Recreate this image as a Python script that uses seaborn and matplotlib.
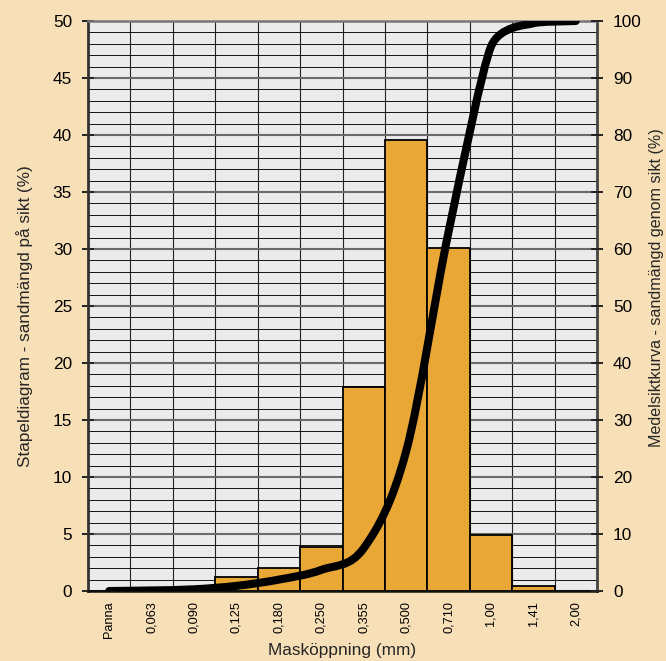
import matplotlib
matplotlib.use("Agg")
import matplotlib.pyplot as plt
from matplotlib.path import Path
from matplotlib.patches import PathPatch
from matplotlib.ticker import MultipleLocator, FixedLocator
import numpy as np
import seaborn as sns

categories = ["Panna", "0,063", "0,090", "0,125", "0,180", "0,250",
              "0,355", "0,500", "0,710", "1,00", "1,41", "2,00"]
bar_values = [0, 0, 0, 1.2, 2.0, 3.9, 17.9, 39.6, 30.1, 4.9, 0.4, 0]
curve_values = [0, 0.1, 0.3, 0.9, 2.0, 3.7, 7.5, 24.5, 63, 95.5, 99.6, 100]

left_label = "Stapeldiagram - sandmängd på sikt (%)"
right_label = "Medelsiktkurva - sandmängd genom sikt (%)"
x_label = "Masköppning (mm)"

sns.set_style("white")
plt.rcParams["font.family"] = ["Liberation Sans", "DejaVu Sans"]

BG = "#F7DFB7"
PLOT_BG = "#EBEBEB"
BAR = "#E9A735"

fig = plt.figure(figsize=(6.66, 6.61), dpi=100, facecolor=BG)
ax = fig.add_axes([88/666, 1-591/661, (597-88)/666, (591-21)/661])
ax.set_facecolor(PLOT_BG)

sns.barplot(x=categories, y=bar_values, order=categories, color=BAR,
            saturation=1, width=1.0, edgecolor="black", linewidth=1.3,
            ax=ax, zorder=2)

n = len(categories)
ax.set_xlim(-0.5, n - 0.5)
ax.set_ylim(0, 50)
ax.set_axisbelow(True)

# y grid: every unit, darker at multiples of 5
ax.yaxis.set_major_locator(MultipleLocator(5))
ax.yaxis.set_minor_locator(MultipleLocator(1))
ax.yaxis.grid(True, which="minor", color="#111111", linewidth=0.7, zorder=0)
ax.yaxis.grid(True, which="major", color="#6a6a6a", linewidth=1.5, zorder=0)

# x: labels at centres, ticks + grid at category boundaries
ax.xaxis.set_minor_locator(FixedLocator(np.arange(-0.5, n, 1.0)))
ax.xaxis.grid(True, which="minor", color="#222222", linewidth=0.8, zorder=0)
ax.xaxis.grid(False, which="major")
ax.tick_params(axis="x", which="major", length=0, pad=7.5, labelsize=9.2,
               labelrotation=90, colors="black")
ax.tick_params(axis="x", which="minor", length=4.5, width=1.0, direction="out",
               color="#222222")
ax.tick_params(axis="y", which="major", direction="inout", length=8,
               width=1.4, pad=7.5, labelsize=12.4, color="#222222",
               labelcolor="black")
ax.tick_params(axis="y", which="minor", length=0)

for s, c, w in [("left", "#333333", 2.0), ("bottom", "#111111", 1.8),
                ("top", "#777777", 1.8), ("right", "#444444", 2.0)]:
    ax.spines[s].set_color(c)
    ax.spines[s].set_linewidth(w)
    ax.spines[s].set_visible(True)

ax.set_xlabel(x_label, fontsize=12.4)
ax.xaxis.set_label_coords(0.5, -0.091)
ax.set_ylabel(left_label, fontsize=12.3)
ax.yaxis.set_label_coords(-0.108, 0.482)

# secondary axis with the smoothed cumulative curve
ax2 = ax.twinx()
ax2.set_ylim(0, 100)
ax2.set_xlim(-0.5, n - 0.5)
ax2.yaxis.set_major_locator(MultipleLocator(10))
ax2.tick_params(axis="y", direction="inout", length=8, width=1.4, pad=7.5,
                labelsize=12.4, color="#222222", labelcolor="black")
for s in ax2.spines.values():
    s.set_visible(False)
ax2.set_ylabel(right_label, fontsize=11.6)
ax2.yaxis.set_label_coords(1.103, 0.532)

# Smoothed line through the data points (cubic Bezier, overshoot-limited)
xs = np.arange(n, dtype=float)
ys = np.asarray(curve_values, dtype=float)
P = np.column_stack([xs, ys])
handles = []
for i in range(n):
    p_prev = P[i - 1] if i > 0 else P[i]
    p_next = P[i + 1] if i < n - 1 else P[i]
    h = (p_next - p_prev) / 6.0
    scale = 1.0
    for j in (i - 1, i + 1):
        if 0 <= j < n and h[1] != 0:
            rng = abs(P[j][1] - P[i][1])
            if abs(h[1]) > 0.9 * rng:
                scale = min(scale, 0.9 * rng / abs(h[1]))
    handles.append(h * scale)
verts = [P[0]]
codes = [Path.MOVETO]
for i in range(n - 1):
    verts += [P[i] + handles[i], P[i + 1] - handles[i + 1], P[i + 1]]
    codes += [Path.CURVE4] * 3
patch = PathPatch(Path(verts, codes), facecolor="none", edgecolor="black",
                  linewidth=5.8, capstyle="round", joinstyle="round",
                  zorder=5, transform=ax2.transData)
ax2.add_patch(patch)

fig.savefig("out.png", dpi=100, facecolor=BG)
